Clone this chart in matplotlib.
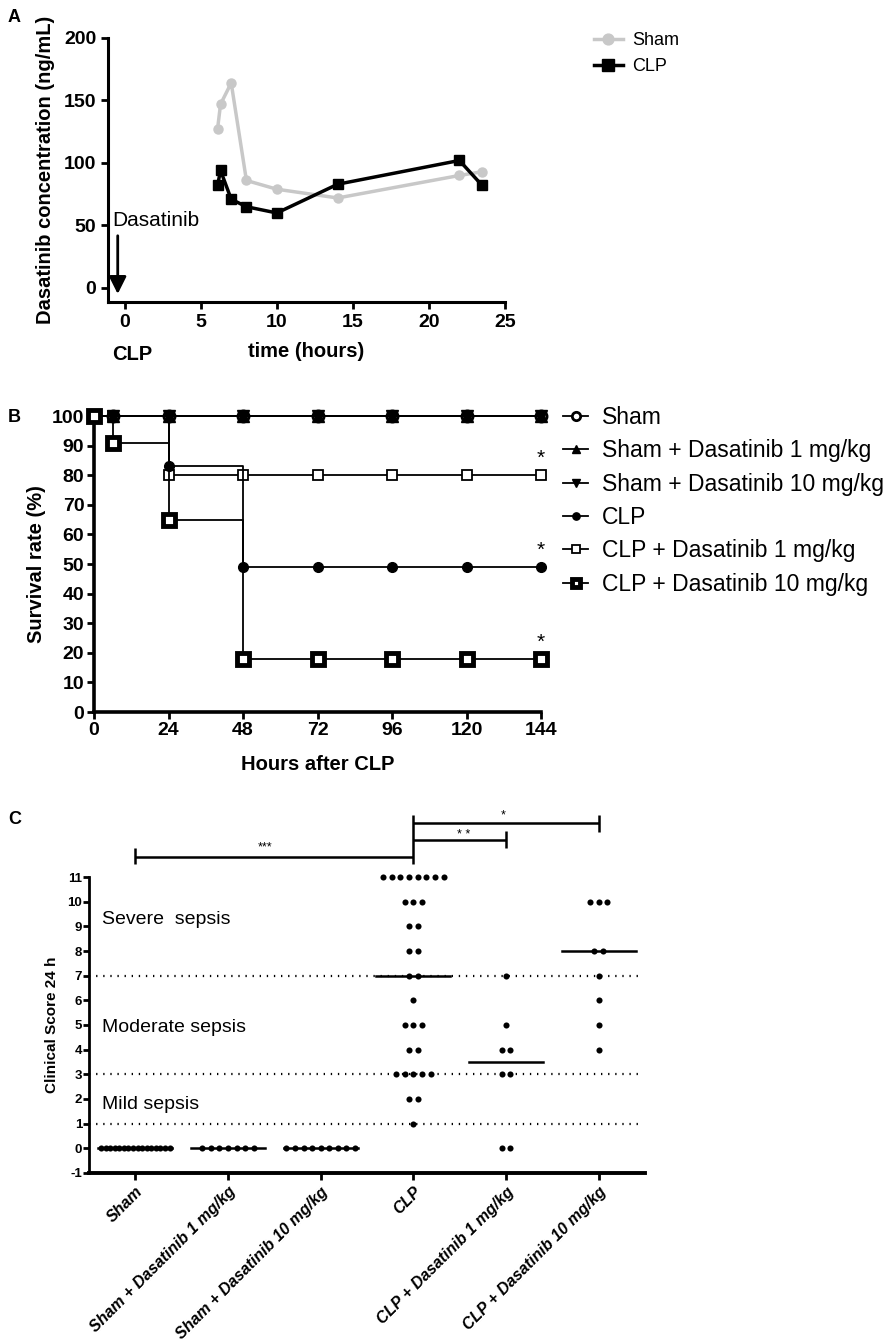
import numpy as np
import matplotlib.pyplot as plt

plt.rcParams['font.family'] = ['Liberation Sans', 'DejaVu Sans']
plt.rcParams['axes.unicode_minus'] = False

# ---- panel A: dasatinib plasma levels ----
pk_time = [6.1, 6.3, 7, 8, 10, 14, 22, 23.5]
pk_sham = [127, 147, 164, 86, 79, 72, 90, 93]
pk_clp = [82, 94, 71, 65, 60, 83, 102, 82]

# ---- panel B: survival ----
surv_hours = [0, 6, 24, 48, 72, 96, 120, 144]
surv_labels = ['Sham', 'Sham + Dasatinib 1 mg/kg', 'Sham + Dasatinib 10 mg/kg',
               'CLP', 'CLP + Dasatinib 1 mg/kg', 'CLP + Dasatinib 10 mg/kg']
surv_sham = [100, 100, 100, 100, 100, 100, 100, 100]
surv_sham_d1 = [100, 100, 100, 100, 100, 100, 100, 100]
surv_sham_d10 = [100, 100, 100, 100, 100, 100, 100, 100]
surv_clp = [100, 100, 83, 49, 49, 49, 49, 49]
surv_clp_d1 = [100, 100, 80, 80, 80, 80, 80, 80]
surv_clp_d10 = [100, 91, 65, 18, 18, 18, 18, 18]

# ---- panel C: clinical score at 24 h ----
score_groups = ['Sham', 'Sham + Dasatinib 1 mg/kg', 'Sham + Dasatinib 10 mg/kg',
                'CLP', 'CLP + Dasatinib 1 mg/kg', 'CLP + Dasatinib 10 mg/kg']
score_sham = [0, 0, 0, 0, 0, 0, 0, 0, 0, 0, 0, 0, 0, 0, 0, 0]
score_sham_d1 = [0, 0, 0, 0, 0, 0, 0]
score_sham_d10 = [0, 0, 0, 0, 0, 0, 0, 0, 0]
score_clp = [11, 11, 11, 11, 11, 11, 11, 11, 10, 10, 10, 9, 9, 8, 8, 7, 7,
             6, 5, 5, 5, 4, 4, 3, 3, 3, 3, 3, 2, 2, 1]
score_clp_d1 = [7, 5, 4, 4, 3, 3, 0, 0]
score_clp_d10 = [10, 10, 10, 8, 8, 7, 6, 5, 4]
severity_cuts = [7, 3, 1]
severity_text = ['Severe  sepsis', 'Moderate sepsis', 'Mild sepsis']
severity_text_y = [9.26, 4.89, 1.78]


def px(x, y):
    """pixel position -> figure fraction"""
    return x / 891, 1 - y / 1341


fig = plt.figure(figsize=(8.91, 13.41), dpi=100)

# =================== A ===================
axA = fig.add_axes([0.1212, 0.7748, 0.4456, 0.1969])
axA.plot(pk_time, pk_sham, color='#c8c8c8', lw=2.5, marker='o', ms=6.5,
         label='Sham', clip_on=False)
axA.plot(pk_time, pk_clp, color='black', lw=2.5, marker='s', ms=7,
         label='CLP', clip_on=False)
axA.set_xlim(-1.1, 25)
axA.set_ylim(-11.2, 200)
axA.set_xticks([0, 5, 10, 15, 20, 25])
axA.set_yticks([0, 50, 100, 150, 200])
for s in ['top', 'right']:
    axA.spines[s].set_visible(False)
for s in ['left', 'bottom']:
    axA.spines[s].set_linewidth(2.2)
axA.tick_params(width=2, length=5, labelsize=14)
for lab in axA.get_xticklabels() + axA.get_yticklabels():
    lab.set_fontweight('bold')
axA.set_ylabel('Dasatinib concentration (ng/mL)', fontsize=14.5,
               fontweight='bold', labelpad=6)
axA.set_xlabel('time (hours)', fontsize=14.5, fontweight='bold', labelpad=8)
axA.text(0.5, -0.2, 'CLP', transform=axA.get_xaxis_transform(),
         ha='center', va='center', fontsize=14.5, fontweight='bold')
axA.annotate('', xy=(-0.46, -7), xytext=(-0.46, 44),
             arrowprops=dict(arrowstyle='-|>', color='black', lw=2,
                             mutation_scale=26), annotation_clip=False)
axA.text(-0.8, 54, 'Dasatinib', fontsize=15, ha='left', va='center')
axA.legend(loc='upper left', bbox_to_anchor=px(594, 32),
           bbox_transform=fig.transFigure, frameon=False, fontsize=13,
           handlelength=1.6, handletextpad=0.5, labelspacing=0.5,
           markerscale=1.2, borderpad=0, borderaxespad=0)
fig.text(*px(8, 18), 'A', fontsize=13, fontweight='bold', va='center')

# =================== B ===================
axB = fig.add_axes([0.1055, 0.4690, 0.5017, 0.2207])
surv_series = [surv_sham, surv_sham_d1, surv_sham_d10,
               surv_clp, surv_clp_d1, surv_clp_d10]
surv_style = [
    dict(marker='o', ms=8, mfc='white', mec='black', mew=2),
    dict(marker='^', ms=8, mfc='black', mec='black'),
    dict(marker='v', ms=8, mfc='black', mec='black'),
    dict(marker='o', ms=7, mfc='black', mec='black'),
    dict(marker='s', ms=7.5, mfc='white', mec='black', mew=1.3),
    dict(marker='s', ms=8.5, mfc='white', mec='black', mew=3.5),
]
# stacking order of the curves (last one drawn on top)
draw_order = [4, 3, 0, 1, 2, 5]
handles = [None] * 6
for k in draw_order:
    h, = axB.plot(surv_hours, surv_series[k], drawstyle='steps-post',
                  color='black', lw=1.3, clip_on=False, label=surv_labels[k],
                  zorder=3 + draw_order.index(k), **surv_style[k])
    handles[k] = h
for vals in [surv_clp_d1, surv_clp, surv_clp_d10]:
    axB.annotate('*', xy=(surv_hours[-1], vals[-1]), xytext=(0, 12),
                 textcoords='offset points', ha='center', va='center',
                 fontsize=15)
axB.set_xlim(0, 144)
axB.set_ylim(0, 100)
axB.set_xticks(surv_hours[:1] + surv_hours[2:])
axB.set_yticks(np.arange(0, 101, 10))
for s in ['top', 'right']:
    axB.spines[s].set_visible(False)
for s in ['left', 'bottom']:
    axB.spines[s].set_linewidth(2.6)
axB.tick_params(width=2, length=5, labelsize=14, pad=2)
for lab in axB.get_xticklabels() + axB.get_yticklabels():
    lab.set_fontweight('bold')
axB.set_ylabel('Survival rate (%)', fontsize=14.5, fontweight='bold', labelpad=4)
axB.set_xlabel('Hours after CLP', fontsize=14.5, fontweight='bold', labelpad=12)
axB.legend(handles=handles, loc='upper left', bbox_to_anchor=px(563, 406),
           bbox_transform=fig.transFigure, frameon=False, fontsize=16.5,
           handlelength=1.1, handletextpad=0.6, labelspacing=0.45,
           markerscale=0.75, borderpad=0, borderaxespad=0)
fig.text(*px(8, 418), 'B', fontsize=13, fontweight='bold', va='center')

# =================== C ===================
axC = fig.add_axes([0.0999, 0.1253, 0.624, 0.2207])
score_series = [score_sham, score_sham_d1, score_sham_d10,
                score_clp, score_clp_d1, score_clp_d10]
for i, vals in enumerate(score_series):
    vals = np.array(vals)
    for v in np.unique(vals):
        n = int((vals == v).sum())
        step = 0.094 if n < 2 else min(0.094, 0.74 / (n - 1))
        xs = i + (np.arange(n) - (n - 1) / 2) * step
        axC.plot(xs, [v] * n, 'o', color='black', ms=4.4, mec='none',
                 clip_on=False, zorder=3)
    med = np.median(vals)
    axC.plot([i - 0.4, i + 0.4], [med, med], color='black', lw=1.8, zorder=2)

for cut in severity_cuts:
    axC.axhline(cut, xmin=0, xmax=0.99, color='black', lw=1.6,
                ls=(0, (0.6, 2.6)), zorder=1)
for txt, y in zip(severity_text, severity_text_y):
    axC.text(-0.36, y, txt, fontsize=14, ha='left', va='center')

# significance brackets above the plot
br = dict(color='black', lw=1.8, clip_on=False, solid_capstyle='butt')
axC.plot([0, 3], [11.81, 11.81], **br)
axC.plot([0, 0], [11.53, 12.18], **br)
axC.plot([3, 3], [11.53, 13.52], **br)
axC.plot([3, 4], [12.50, 12.50], **br)
axC.plot([4, 4], [12.18, 12.87], **br)
axC.plot([3, 5], [13.17, 13.17], **br)
axC.plot([5, 5], [12.83, 13.52], **br)
axC.text(1.4, 12.2, '***', fontsize=9, ha='center', va='center')
axC.text(3.54, 12.72, '* *', fontsize=9, ha='center', va='center')
axC.text(3.97, 13.48, '*', fontsize=9, ha='center', va='center')

axC.set_xlim(-0.5, 5.5)
axC.set_ylim(-1, 11)
axC.set_yticks(np.arange(-1, 12))
axC.set_xticks(range(len(score_groups)))
axC.set_xticklabels(score_groups, rotation=45, ha='right', va='top',
                    rotation_mode='anchor', fontsize=11.5, fontweight='bold',
                    style='italic')
for s in ['top', 'right']:
    axC.spines[s].set_visible(False)
axC.spines['left'].set_linewidth(2)
axC.spines['bottom'].set_linewidth(2.8)
axC.tick_params(axis='y', width=2, length=4, labelsize=9.5, pad=1)
axC.tick_params(axis='x', width=2, length=5, pad=3)
for lab in axC.get_yticklabels():
    lab.set_fontweight('bold')
axC.set_ylabel('Clinical Score 24 h', fontsize=11, fontweight='bold', labelpad=6)
fig.text(*px(8, 820), 'C', fontsize=13, fontweight='bold', va='center')

fig.savefig('out.png', dpi=100)
